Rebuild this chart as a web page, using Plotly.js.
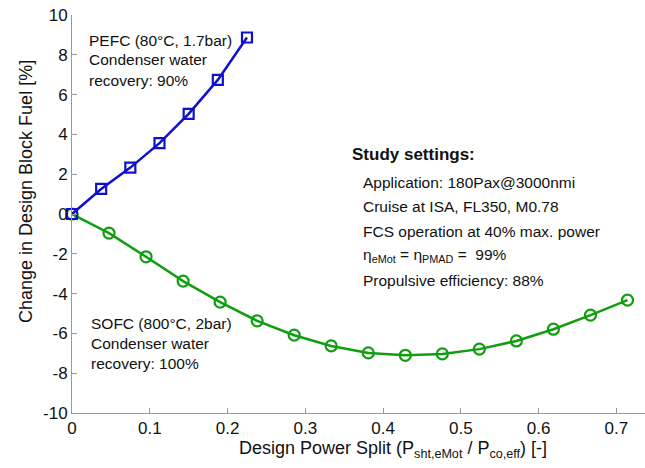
<!DOCTYPE html>
<html>
<head>
<meta charset="utf-8">
<script src="https://cdn.plot.ly/plotly-3.0.1.min.js"></script>
<style>
html,body{margin:0;padding:0;background:#fff;}
#chart{width:645px;height:468px;}
</style>
</head>
<body>
<div id="chart"></div>
<script>
// PEFC series (80°C, 1.7bar)
const pefcX = [0, 0.0375, 0.075, 0.1125, 0.15, 0.1875, 0.225];
const pefcY = [0, 1.26, 2.33, 3.56, 5.03, 6.74, 8.87];
// SOFC series (800°C, 2bar)
const sofcX = [0, 0.0476, 0.0952, 0.1429, 0.1905, 0.2381, 0.2857, 0.3333, 0.381, 0.4286, 0.4762, 0.5238, 0.5714, 0.619, 0.6667, 0.7143];
const sofcY = [0, -0.96, -2.15, -3.37, -4.43, -5.37, -6.09, -6.63, -6.98, -7.10, -7.03, -6.79, -6.38, -5.79, -5.08, -4.33];
// Tick labels
const xTicks = [0, 0.1, 0.2, 0.3, 0.4, 0.5, 0.6, 0.7];
const xTickText = ["0", "0.1", "0.2", "0.3", "0.4", "0.5", "0.6", "0.7"];
const yTicks = [-10, -8, -6, -4, -2, 0, 2, 4, 6, 8, 10];
const yTickText = ["-10", "-8", "-6", "-4", "-2", "0", "2", "4", "6", "8", "10"];
// Texts
const pefcLabel = ["PEFC (80°C, 1.7bar)", "Condenser water", "recovery: 90%"];
const sofcLabel = ["SOFC (800°C, 2bar)", "Condenser water", "recovery: 100%"];
const studyTitle = "Study settings:";
const studyLines = [
  "Application: 180Pax@3000nmi",
  "Cruise at ISA, FL350, M0.78",
  "FCS operation at 40% max. power",
  "η<sub>eMot</sub> = η<sub>PMAD</sub> =  99%",
  "Propulsive efficiency: 88%"
];
const xTitle = "Design Power Split (P<sub>sht,eMot</sub> / P<sub>co,eff</sub>) [-]";
const yTitle = "Change in Design Block Fuel [%]";

const FONT = "Liberation Sans, Arial, sans-serif";
const L = 72, T = 15, W = 573, H = 398;
const px = v => (v - L) / W;
const py = v => (T + H - v) / H;

const blue = "#1010cc", green = "#109e10";

const traces = [
  {x: sofcX, y: sofcY, type: "scatter", mode: "lines+markers",
   line: {color: green, width: 2.5},
   marker: {symbol: "circle-open", size: 11, color: green, line: {width: 2.2, color: green}},
   cliponaxis: false},
  {x: pefcX, y: pefcY, type: "scatter", mode: "lines+markers",
   line: {color: blue, width: 2.5},
   marker: {symbol: "square-open", size: 10, color: blue, line: {width: 2.2, color: blue}},
   cliponaxis: false}
];

const ann = [];
function addText(text, x, y, size, bold) {
  ann.push({xref: "paper", yref: "paper", x: px(x), y: py(y), xanchor: "left", yanchor: "middle",
    text: bold ? "<b>" + text + "</b>" : text, showarrow: false,
    font: {family: FONT, size: size, color: "#111"}});
}
pefcLabel.forEach((t, i) => addText(t, 87, 40 + i * 20, 15.5));
sofcLabel.forEach((t, i) => addText(t, 89, 323 + i * 20, 15.5));
addText(studyTitle, 350, 154, 17, true);
studyLines.forEach((t, i) => addText(t, 361, 182 + i * 24.5, 15.5));
ann.push({xref: "paper", yref: "paper", x: px(393), y: py(449), xanchor: "center", yanchor: "middle",
  text: xTitle, showarrow: false, font: {family: FONT, size: 18, color: "#111"}});
ann.push({xref: "paper", yref: "paper", x: px(26), y: py(192), xanchor: "center", yanchor: "middle",
  text: yTitle, textangle: -90, showarrow: false, font: {family: FONT, size: 18, color: "#111"}});

const layout = {
  width: 645, height: 468,
  margin: {l: L, r: 645 - L - W, t: T, b: 468 - T - H, pad: 0},
  paper_bgcolor: "#fff", plot_bgcolor: "#fff",
  showlegend: false,
  font: {family: FONT, size: 17, color: "#111"},
  xaxis: {range: [0, W / 777.7], tickvals: xTicks, ticktext: xTickText,
    ticks: "inside", ticklen: 5, tickcolor: "#999", showgrid: false, zeroline: false,
    showline: true, linecolor: "#999", linewidth: 1, tickfont: {family: FONT, size: 17, color: "#111"}},
  yaxis: {range: [-10, 10], tickvals: yTicks, ticktext: yTickText,
    ticks: "inside", ticklen: 5, tickcolor: "#999", showgrid: false, zeroline: false,
    showline: true, linecolor: "#999", linewidth: 1, tickfont: {family: FONT, size: 17, color: "#111"}},
  annotations: ann
};

Plotly.newPlot("chart", traces, layout, {staticPlot: true, displayModeBar: false});
</script>
</body>
</html>
